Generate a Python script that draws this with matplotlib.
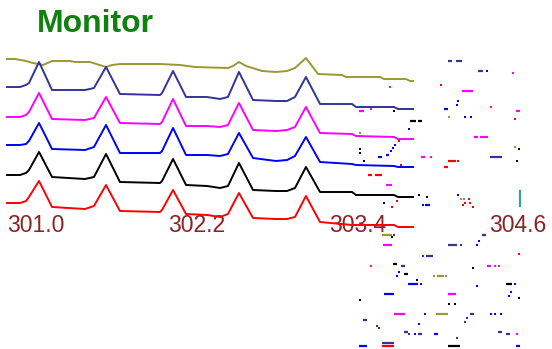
import matplotlib
matplotlib.use("Agg")
import matplotlib.pyplot as plt

# shared wavelength grid of the five peaked traces
wl = [301.000, 301.097, 301.142, 301.164, 301.239, 301.336, 301.582, 301.649,
      301.739, 301.843, 302.142, 302.157, 302.239, 302.336, 302.493, 302.590,
      302.649, 302.731, 302.836, 303.007, 303.090, 303.149, 303.231, 303.336,
      303.575, 303.604, 303.888, 303.918, 304.030]

navy = [262, 262, 264, 266, 287, 259, 259, 261, 282, 255, 254, 256, 278, 252, 252,
        250, 252, 277, 249, 248, 248, 252, 272, 245, 245, 242, 242, 240, 240]
magenta = [232, 232, 234, 237, 256, 230, 229, 231, 252, 226, 225, 227, 250, 223, 223,
           222, 224, 246, 219, 218, 219, 222, 242, 216, 215, 213, 212, 210, 210]
blue = [204, 204, 205, 208, 226, 200, 199, 202, 224, 196, 196, 198, 221, 194, 194,
        193, 195, 216, 191, 188, 189, 193, 212, 187, 185, 184, 183, 182, 182]
black = [174, 174, 176, 179, 197, 172, 170, 172, 195, 167, 166, 168, 190, 164, 163,
         161, 163, 186, 159, 158, 158, 161, 182, 157, 157, 154, 154, 152, 152]
red = [146, 146, 148, 152, 168, 142, 140, 143, 164, 138, 137, 139, 159, 135, 134,
       132, 135, 156, 131, 130, 130, 132, 153, 127, 124, 124, 124, 122, 122]

wl_olive = [301.000, 301.060, 301.142, 301.194, 301.269, 301.336, 301.470, 301.507,
            301.619, 301.739, 301.784, 301.843, 302.142, 302.291, 302.403, 302.649,
            302.687, 302.731, 302.784, 302.903, 303.007, 303.090, 303.149, 303.231,
            303.321, 303.500, 303.530, 303.784, 303.813, 303.978, 304.007, 304.030]
olive = [290, 290, 288, 286, 284, 288, 288, 287, 287, 282, 284, 285, 285, 284, 282, 281,
         283, 287, 283, 278, 277, 278, 281, 291, 275, 274, 272, 272, 270, 270, 268, 268]

tick_vals = [301.0, 302.2, 303.4, 304.6]
tick_labels = ["301.0", "302.2", "303.4", "304.6"]

# stray fragments (x0, x1, level) and single dots (x, level)
navy_dash = [(304.291, 304.321, 288), (304.351, 304.396, 288), (304.515, 304.552, 278),
             (304.604, 304.694, 192), (304.545, 304.575, 114), (304.291, 304.358, 104),
             (304.127, 304.179, 93), (303.940, 303.970, 83), (304.455, 304.485, 35),
             (303.657, 303.687, 29), (303.963, 303.993, 17), (304.067, 304.097, 15),
             (304.664, 304.694, 17), (304.724, 304.754, 15), (303.799, 303.888, 6)]
navy_dot = [(303.888, 114), (304.388, 104), (304.104, 93), (304.433, 31), (304.418, 27),
            (303.761, 23), (303.776, 21), (304.000, 15), (304.358, 11)]
blue_dash = [(304.261, 304.291, 240), (303.769, 303.799, 192), (303.828, 303.851, 194),
             (304.119, 304.157, 144), (303.993, 304.067, 65), (303.813, 303.888, 55),
             (304.187, 304.216, 15), (303.627, 303.687, 3), (304.799, 304.828, 3)]
blue_dot = [(304.582, 278), (304.366, 248), (304.358, 244), (304.418, 232), (304.463, 232),
            (304.000, 220), (303.866, 198), (303.881, 201), (303.896, 204), (304.366, 154),
            (304.104, 144), (304.522, 108), (304.507, 104), (303.925, 77), (303.910, 73),
            (304.090, 65), (304.507, 63), (304.791, 65), (304.761, 57), (304.746, 53),
            (304.119, 35), (304.612, 35), (304.642, 35), (304.687, 35), (304.075, 25),
            (304.045, 15)]
magenta_dash = [(304.396, 304.478, 258), (303.627, 303.664, 238), (304.799, 304.828, 238),
                (304.485, 304.515, 212), (304.530, 304.590, 212), (304.090, 304.119, 192),
                (303.828, 303.873, 164), (303.806, 303.873, 104), (304.582, 304.612, 83),
                (304.291, 304.351, 55), (303.888, 303.970, 35)]
magenta_dot = [(304.776, 276), (303.858, 262), (304.612, 242), (303.716, 240), (304.164, 192),
               (303.716, 83), (304.642, 83), (304.672, 83), (304.806, 15)]
black_dash = [(304.007, 304.052, 228), (304.067, 304.097, 228), (303.881, 303.910, 85),
              (303.963, 303.993, 75), (304.724, 304.769, 65), (304.291, 304.381, 3)]
black_dot = [(303.888, 238), (304.821, 200), (303.634, 200), (303.634, 196), (303.664, 188),
             (304.806, 188), (304.075, 154), (304.134, 152), (303.813, 146), (303.873, 112),
             (304.478, 81), (304.060, 69), (304.821, 51), (303.634, 49), (304.299, 45),
             (304.343, 45)]
red_dash = [(304.291, 304.351, 188), (304.261, 304.291, 182), (303.694, 303.724, 174),
            (303.746, 303.799, 174), (303.799, 303.888, 3)]
red_dot = [(304.239, 264), (304.791, 230), (303.925, 208), (304.366, 188), (303.940, 184),
           (303.910, 148), (304.448, 150), (304.418, 146), (304.403, 144), (304.455, 146),
           (304.478, 142), (303.873, 142), (304.821, 95)]
olive_dash = [(303.799, 303.873, 114), (304.209, 304.261, 73), (304.201, 304.291, 35)]
olive_dot = [(304.299, 232), (304.791, 202), (303.634, 216), (304.388, 150), (304.187, 73),
             (304.276, 73)]
teal_bar = (304.828, 143, 158)
teal_dot = [(304.410, 150)]

c_navy, c_mag, c_blue, c_blk, c_red, c_olive, c_teal = (
    "#333399", "#ff00ff", "#0000ff", "#000000", "#ff0000", "#999933", "#33a3a3")

fig = plt.figure(figsize=(5.52, 3.49), dpi=100)
ax = fig.add_axes([0, 0, 1, 1])
ax.set_xlim(300.9478, 305.067)
ax.set_ylim(0, 349)
ax.axis("off")

for t, lab in zip(tick_vals, tick_labels):
    ax.text(t, 117, lab, ha="left", va="baseline", color="#8b2323",
            fontsize=16.5, family="Liberation Sans", zorder=1)

lw = 1.4
ax.plot(wl_olive, olive, color=c_olive, lw=lw, zorder=3)
for ys, c in [(navy, c_navy), (magenta, c_mag), (blue, c_blue), (black, c_blk), (red, c_red)]:
    ax.plot(wl, ys, color=c, lw=lw, zorder=3)

for dashes, dots, c in [(navy_dash, navy_dot, c_navy), (blue_dash, blue_dot, c_blue),
                        (magenta_dash, magenta_dot, c_mag), (black_dash, black_dot, c_blk),
                        (red_dash, red_dot, c_red), (olive_dash, olive_dot, c_olive),
                        ([], teal_dot, c_teal)]:
    for x0, x1, y in dashes:
        ax.plot([x0, x1], [y, y], color=c, lw=1.6, solid_capstyle="butt", zorder=4)
    if dots:
        ax.scatter([d[0] for d in dots], [d[1] for d in dots], marker="s", s=3,
                   color=c, linewidths=0, zorder=4)

ax.plot([teal_bar[0], teal_bar[0]], [teal_bar[1], teal_bar[2]], color=c_teal, lw=1.6, zorder=4)

fig.text(37 / 552, 1 - 32 / 349, "Monitor", color="#108010", fontsize=23,
         fontweight="bold", family="Liberation Sans", va="baseline", ha="left")

fig.savefig("out.png", dpi=100)
